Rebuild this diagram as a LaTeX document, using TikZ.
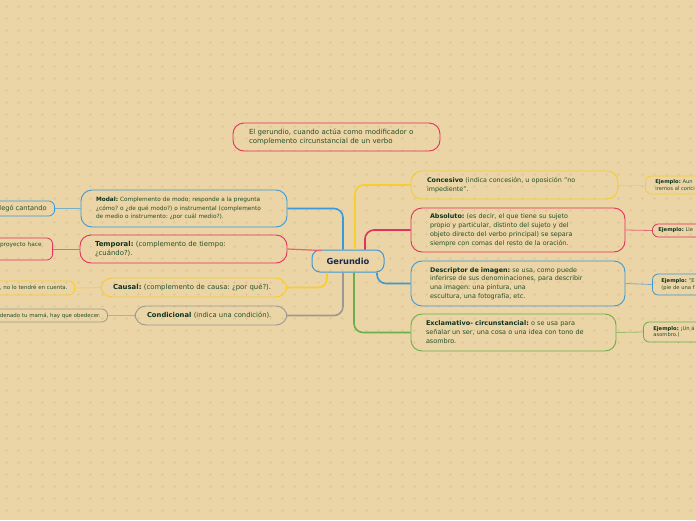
\documentclass[tikz,border=0pt]{standalone}
\usepackage{fontspec}
\setmainfont{DejaVu Sans}
\frenchspacing
\definecolor{bg}{RGB}{235,212,165}
\definecolor{gridc}{RGB}{224,200,152}
\definecolor{cblue}{RGB}{58,154,217}
\definecolor{ccrim}{RGB}{226,50,94}
\definecolor{cyel}{RGB}{246,206,46}
\definecolor{cgray}{RGB}{155,153,148}
\definecolor{cgreen}{RGB}{104,176,76}
\definecolor{txt}{RGB}{38,80,42}
\definecolor{lblc}{RGB}{14,52,30}
\definecolor{navy}{RGB}{26,40,78}
\newcommand{\lbl}[1]{\textbf{\color{lblc}#1}}
\tikzset{
  bx/.style={draw=#1, line width=0.9pt, rounded corners=11pt, align=left, inner ysep=2pt, text=txt},
  exbox/.style={draw=#1, line width=0.8pt, rounded corners=6pt, inner ysep=1pt, text=txt, font=\fontsize{5.2}{6.3}\selectfont},
  branch/.style={draw=#1, line width=1.6pt, rounded corners=9pt},
  link/.style={draw=#1!65!bg, line width=0.8pt},
}
\begin{document}
\begin{tikzpicture}[x=1pt,y=-1pt]
\useasboundingbox (0,0) rectangle (696,520);
\clip (0,0) rectangle (696,520);
\fill[bg] (0,0) rectangle (696,520);
\draw[gridc, line width=0.35pt] foreach \gx in {6,18,...,696} { foreach \gy in {6,18,...,520} { (\gx-1.5,\gy) -- (\gx+1.5,\gy) (\gx,\gy-1.5) -- (\gx,\gy+1.5) } };

% top floating node
\node[bx=ccrim, minimum height=28, text width=175, inner xsep=16, font=\fontsize{7}{9}\selectfont] (top) at (336.5,137)
  {El gerundio, cuando actúa como modificador o\\complemento circunstancial de un verbo};

% central node
\node[draw=cblue, line width=1pt, rounded corners=8pt, minimum width=72, minimum height=22, inner sep=1pt, text=navy, font=\bfseries\fontsize{8.3}{10}\selectfont] (ger) at (348,261) {Gerundio};

% left branches
\node[bx=cblue, minimum height=37, text width=176, inner xsep=15, font=\fontsize{5.8}{8.5}\selectfont] (modal) at (184,208.5)
  {\lbl{Modal:} Complemento de modo; responde a la pregunta\\¿cómo? o ¿de qué modo?) o instrumental (complemento\\de medio o instrumento: ¿por cuál medio?).};
\node[bx=ccrim, minimum height=28, text width=177, inner xsep=15, font=\fontsize{6.9}{9}\selectfont] (temp) at (183.5,249)
  {\lbl{Temporal:} (complemento de tiempo:\\¿cuándo?).};
\node[bx=cyel, minimum height=19, text width=162, inner xsep=12, font=\fontsize{6.9}{9}\selectfont] (causal) at (194,287.5)
  {\lbl{Causal:} (complemento de causa: ¿por qué?).};
\node[bx=cgray, minimum height=19, text width=128, inner xsep=12, font=\fontsize{6.8}{9}\selectfont] (cond) at (211,315.5)
  {\lbl{Condicional} (indica una condición).};

% right branches
\node[bx=cyel, minimum height=28, text width=175, inner xsep=16, font=\fontsize{6.4}{9}\selectfont] (conc) at (514.5,185)
  {\lbl{Concesivo} (indica concesión, u oposición "no\\impediente".};
\node[bx=ccrim, minimum height=44, text width=176, inner xsep=19, font=\fontsize{6.4}{9}\selectfont] (abs) at (518,230)
  {\lbl{Absoluto:} (es decir, el que tiene su sujeto\\propio y particular, distinto del sujeto y del\\objeto directo del verbo principal) se separa\\siempre con comas del resto de la oración.};
\node[bx=cblue, minimum height=45, text width=176, inner xsep=19, font=\fontsize{6.4}{8.7}\selectfont] (desc) at (518,283.5)
  {\lbl{Descriptor de imagen:} se usa, como puede\\inferirse de sus denominaciones, para describir\\una imagen: una pintura, una\\escultura, una fotografía, etc.};
\node[bx=cgreen, minimum height=37, text width=175, inner xsep=15, font=\fontsize{6.5}{9}\selectfont] (excl) at (513.5,332.5)
  {\lbl{Exclamativo- circunstancial:} o se usa para\\señalar un ser, una cosa o una idea con tono de\\asombro.};

% left examples
\node[exbox=cblue, anchor=east, minimum height=15, inner xsep=8, font=\fontsize{6.6}{7.5}\selectfont] (modalex) at (55,208.5) {Llegó cantando};
\node[exbox=ccrim, anchor=east, minimum height=22, inner xsep=11, text width=80, align=right, font=\fontsize{5.8}{6.8}\selectfont] (tempex) at (53,249) {proyecto hace\\\strut};
\node[exbox=cyel, anchor=east, minimum height=14, inner xsep=7, font=\fontsize{5.5}{6.5}\selectfont] (causalex) at (75,288) {, no lo tendré en cuenta.};
\node[exbox=cgray, anchor=east, minimum height=13, inner xsep=7, font=\fontsize{5.45}{6.5}\selectfont] (condex) at (108,315.5) {denado tu mamá, hay que obedecer.};

% right examples
\node[exbox=cyel, anchor=west, minimum height=18, inner xsep=10, text width=90, align=left] (concex) at (645,185) {\lbl{Ejemplo:} Aun\\iremos al conci};
\node[exbox=ccrim, anchor=west, minimum height=13, inner xsep=6, text width=90, align=left] (absex) at (652,230.5) {\lbl{Ejemplo:} Lle};
\node[exbox=cblue, anchor=west, minimum height=21, inner xsep=9, text width=90, align=left] (descex) at (652,284.5) {\lbl{Ejemplo:} "E\\(pie de una f};
\node[exbox=cgreen, anchor=west, minimum height=20, inner xsep=10, text width=90, align=left] (exclex) at (643,332) {\lbl{Ejemplo:} ¡Un á\\asombro.)};

% branches from centre
\draw[branch=cblue] ([xshift=-5pt]ger.north) |- (modal.east);
\draw[branch=ccrim!70!bg, line width=1.2pt] (temp.east) -- ([xshift=-27pt,yshift=-1pt]ger.north);
\draw[branch=cyel] ([xshift=-21pt]ger.south) |- (causal.east);
\draw[branch=cgray] ([xshift=-5pt]ger.south) |- (cond.east);
\draw[branch=cyel] ([xshift=7pt]ger.north) |- (conc.west);
\draw[branch=ccrim] ([xshift=17pt]ger.north) |- (abs.west);
\draw[branch=cblue] ([xshift=29pt]ger.south) |- (desc.west);
\draw[branch=cgreen] ([xshift=6pt]ger.south) |- (excl.west);

% example links
\draw[link=cblue] (modal.west) -- (modalex.east);
\draw[link=ccrim] (temp.west) -- (tempex.east);
\draw[link=cyel] (causal.west) -- (causalex.east);
\draw[link=cgray] (cond.west) -- (condex.east);
\draw[link=cyel] (conc.east) -- (concex.west);
\draw[link=ccrim] (abs.east) -- (absex.west);
\draw[link=cblue] (desc.east) -- (descex.west);
\draw[link=cgreen] (excl.east) -- (exclex.west);
\end{tikzpicture}
\end{document}
